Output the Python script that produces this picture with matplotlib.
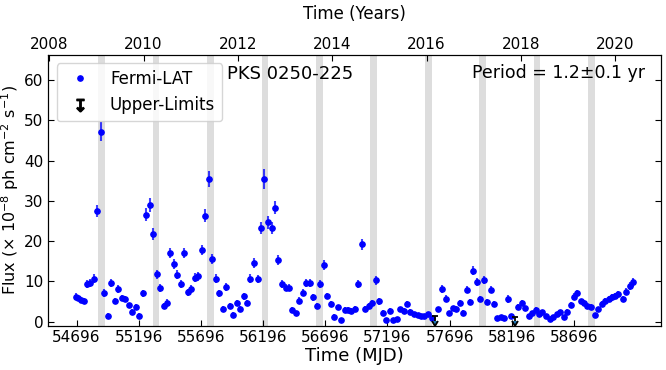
import matplotlib
matplotlib.use('Agg')
from matplotlib import pyplot as plt
from matplotlib.lines import Line2D


# monthly (28 d) Fermi-LAT bins
mjd = [54692, 54708, 54730, 54754, 54778, 54807, 54834, 54863, 54893, 54917,
       54947, 54976, 55003, 55032, 55059, 55086, 55115, 55142, 55172, 55201,
       55228, 55257, 55284, 55313, 55340, 55367, 55397, 55423, 55450, 55479,
       55506, 55533, 55562, 55590, 55618, 55646, 55675, 55702, 55731, 55758,
       55787, 55815, 55843, 55871, 55897, 55927, 55956, 55983, 56012, 56039,
       56066, 56093, 56122, 56152, 56179, 56207, 56235, 56265, 56291, 56318,
       56347, 56377, 56404, 56430, 56457, 56486, 56514, 56540, 56570, 56599,
       56626, 56655, 56682, 56711, 56739, 56765, 56795, 56821, 56851, 56878,
       56904, 56934, 56960, 56990, 57017, 57044, 57073, 57100, 57129, 57159,
       57185, 57215, 57242, 57269, 57298, 57325, 57354, 57381, 57408, 57438,
       57464, 57491, 57520, 57550, 57606, 57635, 57663, 57692, 57719, 57747,
       57775, 57802, 57832, 57858, 57885, 57912, 57938, 57970, 57997, 58027,
       58053, 58080, 58107, 58134, 58166, 58193, 58249, 58276, 58305, 58332,
       58358, 58388, 58415, 58442, 58473, 58499, 58527, 58555, 58581, 58613,
       58640, 58670, 58696, 58723, 58750, 58776, 58804, 58836, 58868, 58892,
       58919, 58945, 58973, 58999, 59026, 59053, 59090, 59117, 59144, 59172]

flux = [6.2, 5.8, 5.4, 5.1, 9.4, 9.5, 10.6, 27.5, 47.2, 7.0,
        1.5, 9.7, 5.1, 8.0, 5.8, 5.6, 4.0, 2.5, 3.7, 1.5,
        7.0, 26.6, 29.0, 21.8, 11.7, 8.4, 3.8, 4.7, 17.0, 14.3,
        11.6, 9.4, 17.0, 7.3, 8.0, 10.9, 11.2, 17.8, 26.3, 35.4,
        15.6, 10.7, 7.0, 3.2, 8.5, 3.9, 1.7, 4.6, 3.1, 6.3,
        4.6, 10.7, 14.6, 10.5, 23.3, 35.4, 24.7, 23.3, 28.3, 15.3,
        9.3, 8.4, 8.4, 2.9, 2.1, 5.2, 7.2, 9.5, 9.5, 6.0,
        3.9, 9.3, 14.1, 6.4, 4.3, 1.2, 3.5, 0.3, 2.9, 2.9,
        2.7, 3.2, 9.3, 19.2, 3.2, 3.9, 4.6, 10.3, 5.0, 2.2,
        0.3, 2.7, 0.3, 0.7, 3.1, 2.7, 4.4, 2.5, 1.9, 1.6,
        1.5, 1.5, 1.9, 0.8, 3.1, 8.1, 5.7, 2.1, 3.3, 3.2,
        4.6, 2.2, 7.9, 4.8, 12.6, 9.8, 5.6, 10.3, 4.9, 7.9,
        4.4, 0.9, 1.1, 0.8, 5.6, 1.4, 3.6, 4.6, 3.3, 1.5,
        2.1, 2.9, 1.8, 2.3, 1.5, 0.6, 1.2, 1.8, 2.3, 1.1,
        2.5, 4.1, 6.2, 7.0, 5.0, 4.6, 3.9, 3.7, 1.6, 3.1,
        4.4, 5.2, 5.6, 6.0, 6.4, 6.8, 5.6, 7.4, 8.9, 9.8]

flux_err = [0.8, 0.7, 0.7, 0.7, 1.0, 1.0, 1.1, 1.5, 2.4, 1.0,
            0.6, 1.0, 0.8, 1.0, 0.8, 0.8, 0.7, 0.7, 0.7, 0.6,
            0.9, 1.6, 1.7, 1.5, 1.1, 1.0, 0.7, 0.8, 1.3, 1.2,
            1.1, 1.0, 1.3, 0.9, 1.0, 1.1, 1.1, 1.3, 1.6, 2.0,
            1.2, 1.0, 0.9, 0.7, 1.0, 0.7, 0.6, 0.8, 0.7, 0.9,
            0.8, 1.0, 1.2, 1.0, 1.5, 2.4, 1.6, 1.5, 1.6, 1.3,
            1.0, 0.9, 0.9, 0.7, 0.6, 0.8, 0.9, 1.0, 1.0, 0.8,
            0.7, 1.0, 1.2, 0.8, 0.7, 0.6, 0.7, 0.5, 0.6, 0.6,
            0.6, 0.6, 1.0, 1.4, 0.6, 0.7, 0.7, 1.1, 0.8, 0.6,
            0.5, 0.6, 0.5, 0.5, 0.6, 0.6, 0.7, 0.6, 0.5, 0.5,
            0.5, 0.5, 0.5, 0.5, 0.6, 1.0, 0.8, 0.6, 0.6, 0.6,
            0.7, 0.6, 0.9, 0.7, 1.1, 1.0, 0.8, 1.0, 0.8, 0.9,
            0.7, 0.5, 0.5, 0.5, 0.9, 0.5, 0.7, 0.7, 0.6, 0.5,
            0.5, 0.6, 0.5, 0.6, 0.5, 0.5, 0.5, 0.5, 0.6, 0.5,
            0.6, 0.7, 0.8, 0.9, 0.7, 0.7, 0.7, 0.7, 0.6, 0.6,
            0.7, 0.7, 0.8, 0.8, 0.8, 0.8, 0.8, 0.9, 1.0, 1.1]

# upper limits
ul_mjd = [57578, 58221]
ul_flux = [1.5, 1.2]
ul_len = [1.3, 1.1]

# shaded windows, one per 1.2 yr cycle
band_centers = [54898, 55335, 55774, 56211, 56647, 57086, 57523, 57962, 58399, 58836]
band_half = 27

mjd_ticks = [54696, 55196, 55696, 56196, 56696, 57196, 57696, 58196, 58696]
year_ticks = [2008, 2010, 2012, 2014, 2016, 2018, 2020]


fig = plt.figure(figsize=(6.66, 3.70), dpi=100)
ax = fig.add_axes([0.0725, 0.12, 0.92, 0.731])

for c in band_centers:
    ax.axvspan(c - band_half, c + band_half, color='#dddddd', lw=0, zorder=0)

ax.errorbar(mjd, flux, yerr=flux_err, fmt='none', ecolor='b', alpha=0.75,
            elinewidth=1.5, zorder=2)
ax.plot(mjd, flux, 'o', color='b', ms=3.8, zorder=3)
ax.errorbar(ul_mjd, ul_flux, yerr=ul_len, uplims=True, fmt='none',
            ecolor='k', elinewidth=1.3, capsize=2.5, capthick=1.3, zorder=3)

ax.set_xlim(54469, 59395)
ax.set_ylim(-1, 66.2)
ax.set_xticks(mjd_ticks)
ax.set_yticks([0, 10, 20, 30, 40, 50, 60])
ax.tick_params(direction='in', labelsize=11, length=4, right=True)
ax.set_xlabel('Time (MJD)', fontsize=13, labelpad=1)
ax.set_ylabel('Flux (× 10$^{-8}$ ph cm$^{-2}$ s$^{-1}$)', fontsize=11.5, labelpad=2)

ax.text(0.292, 0.932, 'PKS 0250-225', transform=ax.transAxes, fontsize=13,
        va='center', ha='left')
ax.text(0.974, 0.935, 'Period = 1.2±0.1 yr', transform=ax.transAxes, fontsize=12.5,
        va='center', ha='right')

pt = Line2D([], [], ls='none', marker='o', color='b', ms=3.8)
ul_h = Line2D([], [], ls='none', marker='$\u21a7$', color='k', ms=9)
ax.legend([pt, ul_h], ['Fermi-LAT', 'Upper-Limits'], loc='upper left',
          fontsize=12, numpoints=1, handlelength=2.0, framealpha=0.8)

ax2 = ax.twiny()
ax2.set_xlim(2007.98, 2020.97)
ax2.set_xticks(year_ticks)
ax2.tick_params(direction='in', labelsize=11, length=4, pad=2)
ax2.set_xlabel('Time (Years)', fontsize=12, labelpad=13)

fig.savefig('out.png', dpi=100)
